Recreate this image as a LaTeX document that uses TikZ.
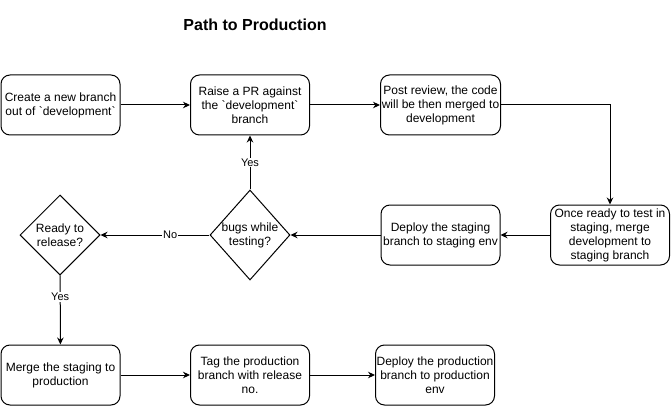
\documentclass[tikz,border=0pt]{standalone}
\usepackage{fontspec}
\setmainfont{Liberation Sans}
\usetikzlibrary{arrows.meta,shapes.geometric}

\begin{document}
\begin{tikzpicture}[x=1pt, y=-1pt,
  stepbox/.style={draw, line width=1pt, rounded corners=9pt, minimum width=119pt,
    minimum height=60pt, inner sep=1pt, align=center, font=\fontsize{12}{14}\selectfont},
  decision/.style={draw, line width=1pt, diamond, inner sep=0pt,
    font=\fontsize{12}{14}\selectfont},
  flow/.style={-{Stealth[length=7pt,width=6.5pt]}, line width=1pt},
  edgelabel/.style={fill=white, inner sep=1pt, font=\fontsize{11}{13}\selectfont}]
  \useasboundingbox (0, 0) rectangle (671, 406);

  \node[font=\fontsize{16}{19}\selectfont\bfseries] (title) at (255, 25) {Path to Production};

  % top row
  \node[stepbox] (create) at (60.5, 105) {Create a new branch\\out of \textasciigrave development\textasciigrave};
  \node[stepbox] (raise) at (250, 105) {Raise a PR against\\the \textasciigrave development\textasciigrave\\branch};
  \node[stepbox, minimum width=120pt] (review) at (440.5, 105) {Post review, the code\\will be then merged to\\development};

  % middle row
  \node[stepbox] (merged) at (610, 235) {Once ready to test in\\staging, merge\\development to\\staging branch};
  \node[stepbox] (deploystaging) at (440.5, 235) {Deploy the staging\\branch to staging env};
  \node[decision, minimum width=80pt, minimum height=90pt,
    label={[align=center, font=\fontsize{12}{14}\selectfont]center:bugs while\\testing?}] (bugs) at (250, 235) {};
  \node[decision, minimum width=80pt, minimum height=80pt,
    label={[align=center, font=\fontsize{12}{14}\selectfont]center:Ready to\\release?}] (ready) at (60, 235) {};

  % bottom row
  \node[stepbox] (merge) at (60.5, 375) {Merge the staging to\\production};
  \node[stepbox] (tagrelease) at (250, 375) {Tag the production\\branch with release\\no.};
  \node[stepbox] (deployprod) at (435, 375) {Deploy the production\\branch to production\\env};

  \draw[flow] (create) -- (raise);
  \draw[flow] (raise) -- (review);
  \draw[flow] (review.east) -| (merged.north);
  \draw[flow] (merged) -- (deploystaging);
  \draw[flow] (deploystaging) -- (bugs);
  \draw[flow] (bugs) -- node[edgelabel] {Yes} (raise);
  \draw[flow] (bugs) -- node[edgelabel, pos=0.36] {No} (ready);
  \draw[flow] (ready) -- node[edgelabel, pos=0.31] {Yes} (merge);
  \draw[flow] (merge) -- (tagrelease);
  \draw[flow] (tagrelease) -- (deployprod);
\end{tikzpicture}
\end{document}
